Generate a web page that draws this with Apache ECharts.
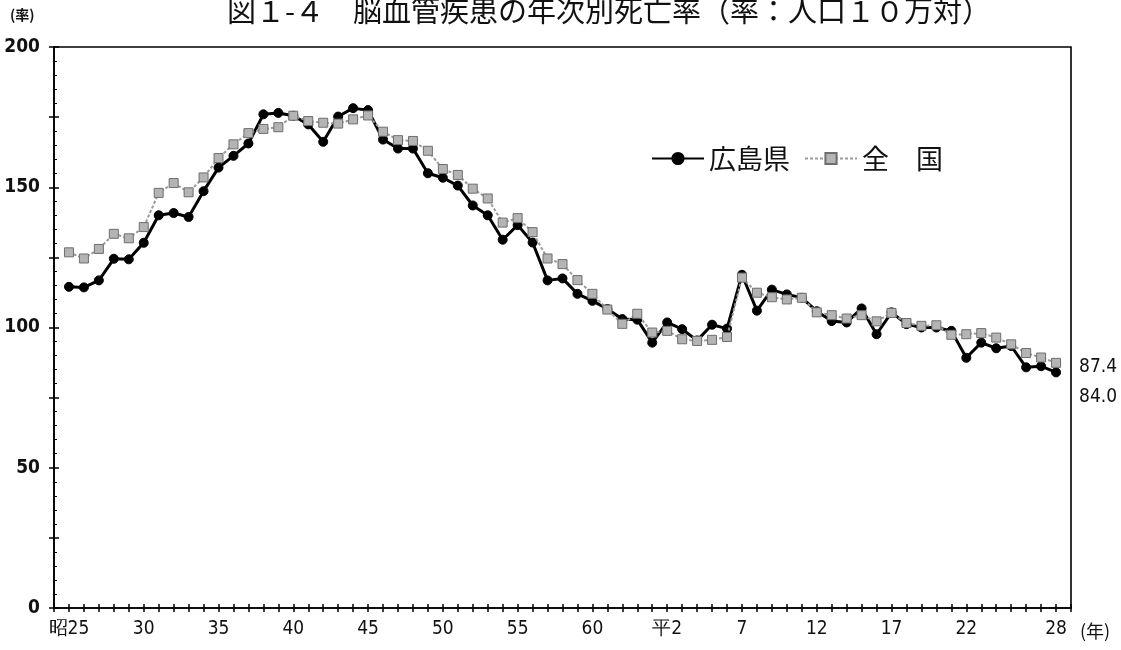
<!DOCTYPE html>
<html>
<head>
<meta charset="utf-8">
<script src="https://cdn.jsdelivr.net/npm/echarts@6/dist/echarts.min.js"></script>
<style>
html,body{margin:0;padding:0;background:#fff;}
#c{width:1121px;height:650px;}
</style>
</head>
<body>
<div id="c"></div>
<script>
const years = [1950,1951,1952,1953,1954,1955,1956,1957,1958,1959,
  1960,1961,1962,1963,1964,1965,1966,1967,1968,1969,
  1970,1971,1972,1973,1974,1975,1976,1977,1978,1979,
  1980,1981,1982,1983,1984,1985,1986,1987,1988,1989,
  1990,1991,1992,1993,1994,1995,1996,1997,1998,1999,
  2000,2001,2002,2003,2004,2005,2006,2007,2008,2009,
  2010,2011,2012,2013,2014,2015,2016];
const hiroshima = [114.5,114.3,116.8,124.5,124.3,130.2,140.0,140.8,139.4,148.6,
  157.0,161.2,165.6,176.0,176.5,175.5,172.4,166.2,175.2,178.2,
  177.5,167.0,163.8,163.8,155.0,153.4,150.6,143.5,140.0,131.3,
  136.5,130.3,116.8,117.5,112.0,109.5,106.6,103.0,102.8,94.6,
  101.8,99.4,95.4,101.0,99.6,118.8,106.0,113.5,111.8,110.6,
  105.8,102.3,101.8,106.8,97.6,105.4,101.2,100.0,100.0,98.8,
  89.2,94.6,92.6,93.4,85.8,86.2,84.0];
const national = [126.8,124.6,128.0,133.4,131.8,135.8,148.0,151.5,148.2,153.5,
  160.4,165.3,169.3,170.8,171.4,175.5,173.6,173.0,172.7,174.2,
  175.6,169.8,166.8,166.5,163.0,156.5,154.4,149.5,146.0,137.4,
  139.0,134.0,124.6,122.6,116.9,112.0,106.4,101.3,104.9,98.2,
  98.8,95.8,95.2,95.6,96.6,117.8,112.4,110.8,110.0,110.6,
  105.4,104.4,103.2,104.4,102.2,105.2,101.6,100.6,100.8,97.4,
  97.6,98.0,96.4,94.0,90.9,89.3,87.4];
const xTickLabels = {1950:'昭25',1955:'30',1960:'35',1965:'40',1970:'45',1975:'50',1980:'55',
  1985:'60',1990:'平2',1995:'7',2000:'12',2005:'17',2010:'22',2016:'28'};
const seriesNames = ['広島県','全　国'];
const titleText = '図１-４　脳血管疾患の年次別死亡率（率：人口１０万対）';

const numFont = '"Liberation Sans Narrow","DejaVu Sans Condensed","Liberation Sans",sans-serif';
const cjkFont = '"Noto Sans CJK JP","Noto Sans",sans-serif';

function build(vals, lastLabel) {
  return vals.map((v, i) => {
    const item = { value: [years[i], v] };
    if (i === vals.length - 1) item.label = lastLabel;
    return item;
  });
}

const chart = echarts.init(document.getElementById('c'), null, { renderer: 'canvas' });
const axisLine = { lineStyle: { color: '#000', width: 1.6 } };
chart.setOption({
  animation: false,
  backgroundColor: '#fff',
  title: {
    text: titleText, left: 222, top: -9,
    textStyle: { fontFamily: cjkFont, fontSize: 29, fontWeight: 'normal', color: '#111' }
  },
  grid: { left: 54, right: 50, top: 47, bottom: 42, show: true, borderColor: '#000', borderWidth: 1.6, backgroundColor: 'transparent' },
  legend: {
    left: 646, top: 140, itemWidth: 52, itemHeight: 14, itemGap: 14,
    textStyle: { fontFamily: cjkFont, fontSize: 27, color: '#111' },
    data: seriesNames
  },
  xAxis: [{
    type: 'value', min: 1949, max: 2017, interval: 1,
    axisLine: axisLine,
    axisTick: { show: true, inside: false, length: 4, lineStyle: { color: '#000', width: 1.5 } },
    splitLine: { show: false },
    axisLabel: {
      margin: 12, fontFamily: numFont, fontSize: 19, color: '#111',
      formatter: v => xTickLabels[v] || ''
    }
  }, {
    type: 'value', min: 1949, max: 2017, interval: 1, position: 'bottom',
    axisLine: { show: false },
    axisTick: { show: true, inside: true, length: 4, lineStyle: { color: '#000', width: 1.5 } },
    splitLine: { show: false }, axisLabel: { show: false }
  }],
  yAxis: [{
    type: 'value', min: 0, max: 200, interval: 25,
    axisLine: { show: true, lineStyle: { color: '#000', width: 1.6 } },
    axisTick: { show: true, inside: false, length: 5, lineStyle: { color: '#000', width: 1.5 } },
    splitLine: { show: false },
    axisLabel: {
      margin: 14, fontFamily: numFont, fontSize: 19, fontWeight: 'bold', color: '#111',
      formatter: v => (v % 50 === 0 ? String(v) : '')
    }
  }, {
    type: 'value', min: 0, max: 200, interval: 25, position: 'left',
    axisLine: { show: false },
    axisTick: { show: true, inside: true, length: 5, lineStyle: { color: '#000', width: 1.5 } },
    minorTick: { show: true, splitNumber: 5, length: 3, lineStyle: { color: '#000', width: 1 } },
    splitLine: { show: false }, axisLabel: { show: false }
  }],
  graphic: [
    { type: 'text', left: 10, top: 8, style: { text: '(率)', font: 'bold 14px ' + cjkFont, fill: '#111' } },
    { type: 'text', left: 1080, top: 622, style: { text: '(年)', font: '18px ' + cjkFont, fill: '#111' } }
  ],
  series: [{
    name: seriesNames[0], type: 'line', xAxisIndex: 0, yAxisIndex: 0,
    data: build(hiroshima, { show: true, position: 'right', distance: 18, offset: [0, 25],
      formatter: p => p.value[1].toFixed(1), fontFamily: numFont, fontSize: 19, color: '#111' }),
    symbol: 'circle', symbolSize: 9, showSymbol: true, showAllSymbol: true,
    lineStyle: { color: '#000', width: 3 },
    itemStyle: { color: '#000', borderColor: '#000', borderWidth: 1 },
    z: 2
  }, {
    name: seriesNames[1], type: 'line', xAxisIndex: 0, yAxisIndex: 0,
    data: build(national, { show: true, position: 'right', distance: 18, offset: [0, 4],
      formatter: p => p.value[1].toFixed(1), fontFamily: numFont, fontSize: 19, color: '#111' }),
    symbol: 'rect', symbolSize: 9, showSymbol: true, showAllSymbol: true,
    lineStyle: { color: '#9a9a9a', width: 2, type: [3, 2] },
    itemStyle: { color: '#b4b4b4', borderColor: '#6e6e6e', borderWidth: 1 },
    z: 3
  }]
});
</script>
</body>
</html>
